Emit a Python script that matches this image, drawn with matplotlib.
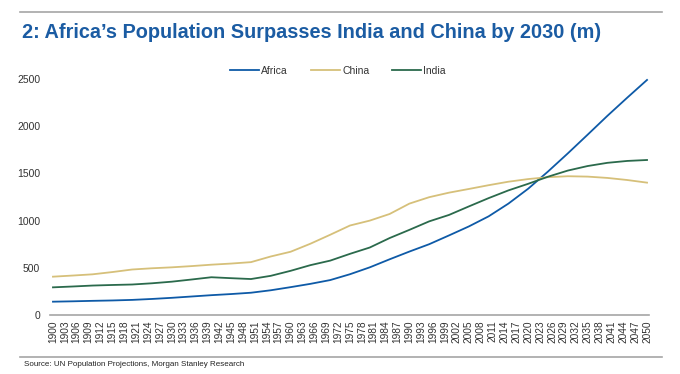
import numpy as np
import matplotlib
matplotlib.use('Agg')
import matplotlib.pyplot as plt
from matplotlib.lines import Line2D

plt.rcParams['font.family'] = ['Liberation Sans', 'DejaVu Sans']

# values (millions), every 5 years
years = list(range(1900, 2051, 5))
africa = [141, 145, 150, 154, 160, 170, 182, 196, 210, 222,
          236, 262, 295, 330, 370, 432, 505, 590, 672, 750,
          843, 938, 1045, 1180, 1338, 1520, 1712, 1910, 2110, 2302, 2490]
china = [406, 418, 431, 455, 482, 495, 505, 518, 533, 545,
         560, 620, 670, 755, 850, 948, 1000, 1070, 1180, 1248,
         1296, 1335, 1375, 1412, 1440, 1460, 1470, 1466, 1452, 1430, 1402]
india = [293, 302, 312, 318, 323, 336, 353, 376, 400, 390,
         381, 415, 468, 528, 576, 648, 715, 815, 902, 992,
         1060, 1150, 1238, 1320, 1390, 1465, 1530, 1578, 1612, 1632, 1642]
tick_years = list(range(1900, 2051, 3))

title = "2: Africa\u2019s Population Surpasses India and China by 2030 (m)"
source = "Source: UN Population Projections, Morgan Stanley Research"

c_africa = '#0E5AA7'
c_china = '#D6C07A'
c_india = '#2B6A4C'

fig = plt.figure(figsize=(6.8, 3.74), dpi=100)
ax = fig.add_axes([50/680, 1-315/374, 599/680, 236/374])

ax.plot(years, africa, color=c_africa, lw=1.3, label='Africa', clip_on=False)
ax.plot(years, china, color=c_china, lw=1.3, label='China', clip_on=False)
ax.plot(years, india, color=c_india, lw=1.3, label='India', clip_on=False)

ax.set_xlim(1899.25, 2050.5)
ax.set_ylim(0, 2500)
ax.set_xticks(tick_years)
ax.set_xticklabels([str(y) for y in tick_years], rotation=90, fontsize=7.3, color='#333333')
ax.set_yticks([0, 500, 1000, 1500, 2000, 2500])
ax.set_yticklabels(['0', '500', '1000', '1500', '2000', '2500'], fontsize=7.5, color='#333333')
ax.tick_params(axis='both', length=0)
ax.tick_params(axis='x', pad=4)
ax.tick_params(axis='y', pad=7)
for s in ['top', 'right', 'left']:
    ax.spines[s].set_visible(False)
ax.spines['bottom'].set_color('#A6A6A6')
ax.spines['bottom'].set_linewidth(1.2)

fig.legend(loc='center', bbox_to_anchor=(0.497, 1-71/374), ncol=3, frameon=False,
           fontsize=7.5, handlelength=2.8, handletextpad=0.2, columnspacing=2.2,
           labelcolor='#333333')

# header and footer rules
fig.add_artist(Line2D([20/680, 662/680], [1-12/374, 1-12/374], color='#A6A6A6', lw=1.2))
fig.add_artist(Line2D([20/680, 662/680], [1-357/374, 1-357/374], color='#A6A6A6', lw=1.2))

fig.text(22/680, 1-33/374, title, fontsize=14.3, fontweight='bold', color='#1B5CA3',
         ha='left', va='center')
fig.text(24/680, 1-364/374, source, fontsize=5.8, color='#222222', ha='left', va='center')

fig.savefig('out.png', dpi=100)
